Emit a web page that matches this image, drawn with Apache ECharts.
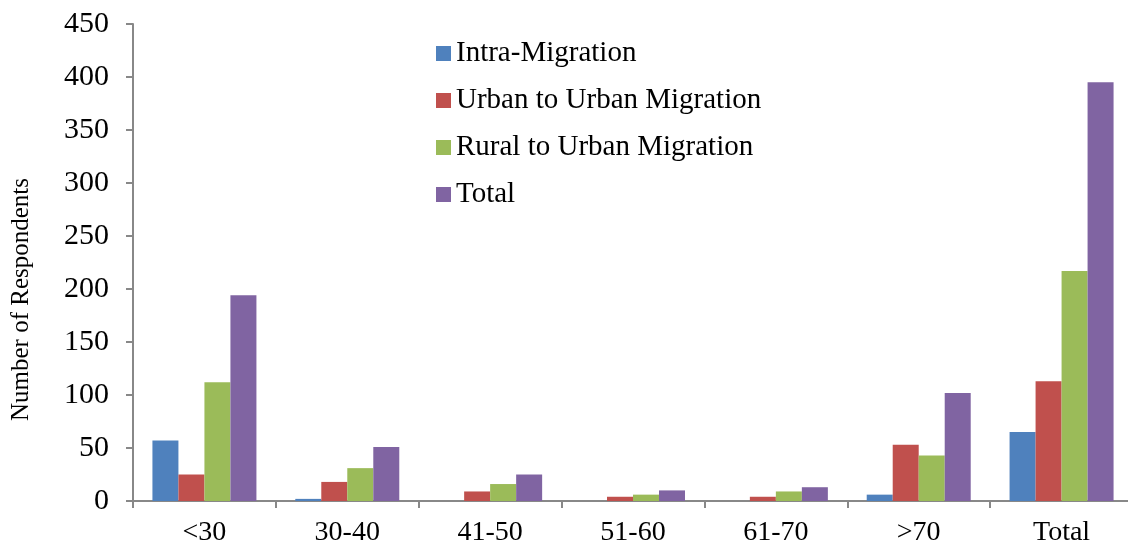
<!DOCTYPE html>
<html>
<head>
<meta charset="utf-8">
<title>Respondents by Age Group and Migration Type</title>
<script src="https://cdn.jsdelivr.net/npm/echarts@6/dist/echarts.min.js"></script>
<style>
  html, body { margin: 0; padding: 0; background: #ffffff; }
  #chart { width: 1128px; height: 544px; }
</style>
</head>
<body>
<div id="chart"></div>
<script>
// Age groups along the x axis
const categories = ['<30', '30-40', '41-50', '51-60', '61-70', '>70', 'Total'];

// Respondent counts per migration type
const intraMigration = [57, 2, 0, 0, 0, 6, 65];
const urbanToUrban   = [25, 18, 9, 4, 4, 53, 113];
const ruralToUrban   = [112, 31, 16, 6, 9, 43, 217];
const totalCounts    = [194, 51, 25, 10, 13, 102, 395];

const seriesNames = ['Intra-Migration', 'Urban to Urban Migration', 'Rural to Urban Migration', 'Total'];
const seriesColors = ['#4F81BD', '#C0504D', '#9BBB59', '#8064A2'];
const seriesData = [intraMigration, urbanToUrban, ruralToUrban, totalCounts];

const yTicks = { min: 0, max: 450, interval: 50 };

const serif = '"Liberation Serif", "Times New Roman", serif';
const axisGray = '#888888';

const chart = echarts.init(document.getElementById('chart'), null, { renderer: 'canvas' });

chart.setOption({
  animation: false,
  backgroundColor: '#ffffff',
  grid: {
    left: 133, top: 24, width: 1000, height: 477,
    containLabel: false,
    outerBoundsMode: 'none'
  },
  legend: {
    orient: 'vertical',
    left: 436,
    top: 39,
    padding: 0,
    itemWidth: 15,
    itemHeight: 15,
    itemGap: 18,
    icon: 'rect',
    textStyle: { fontFamily: serif, fontSize: 29, color: '#000', lineHeight: 29 },
    data: seriesNames
  },
  xAxis: {
    type: 'category',
    data: categories,
    axisLine: { lineStyle: { color: axisGray, width: 2 } },
    axisTick: { show: true, length: 7, inside: false, alignWithLabel: false, lineStyle: { color: axisGray, width: 2 } },
    axisLabel: { fontFamily: serif, fontSize: 28, color: '#000', margin: 18 },
    splitLine: { show: false }
  },
  yAxis: {
    type: 'value',
    min: yTicks.min,
    max: yTicks.max,
    interval: yTicks.interval,
    axisLine: { show: true, lineStyle: { color: axisGray, width: 2 } },
    axisTick: { show: true, length: 7, lineStyle: { color: axisGray, width: 2 } },
    axisLabel: { fontFamily: serif, fontSize: 30, color: '#000', margin: 24 },
    splitLine: { show: false }
  },
  graphic: [{
    type: 'text',
    left: 9,
    top: 178,
    rotation: Math.PI / 2,
    style: {
      text: 'Number of Respondents',
      font: '25px ' + serif,
      fill: '#000'
    }
  }],
  series: seriesNames.map((name, i) => ({
    name: name,
    type: 'bar',
    data: seriesData[i],
    barWidth: 26,
    barGap: '0%',
    itemStyle: { color: seriesColors[i] }
  }))
});
</script>
</body>
</html>
